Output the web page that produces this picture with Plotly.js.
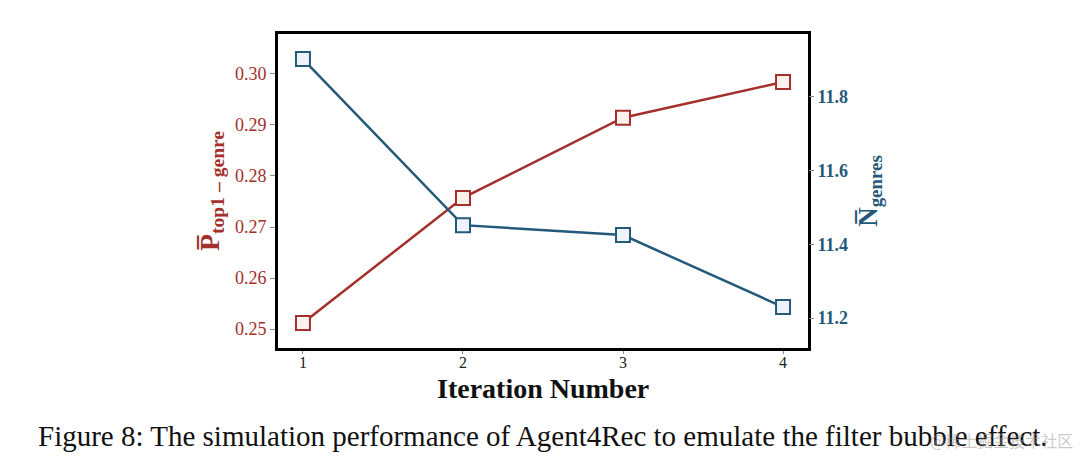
<!DOCTYPE html>
<html>
<head>
<meta charset="utf-8">
<script src="https://cdn.plot.ly/plotly-3.0.1.min.js"></script>
<style>html,body{margin:0;padding:0;background:#fff;}#chart{width:1080px;height:468px;}</style>
</head>
<body>
<div id="chart"></div>
<script>
const iterations = [1, 2, 3, 4];
const pTop1Genre = [0.2512, 0.2757, 0.2914, 0.2984];
const nGenres = [11.902, 11.452, 11.425, 11.230];
const xTickLabels = ['1', '2', '3', '4'];
const leftTicks = [0.25, 0.26, 0.27, 0.28, 0.29, 0.30];
const rightTicks = [11.2, 11.4, 11.6, 11.8];

const RED = '#a3302b';
const BLUE = '#25597a';
const SERIF = '"Liberation Serif", "Times New Roman", serif';

const traces = [
  {
    x: iterations, y: pTop1Genre, type: 'scatter', mode: 'lines+markers',
    line: {color: RED, width: 2.5},
    marker: {symbol: 'square', size: 14, color: '#fdf1ee', line: {color: RED, width: 2}},
    yaxis: 'y', cliponaxis: false
  },
  {
    x: iterations, y: nGenres, type: 'scatter', mode: 'lines+markers',
    line: {color: BLUE, width: 2.5},
    marker: {symbol: 'square', size: 14, color: '#eef3fb', line: {color: BLUE, width: 2}},
    yaxis: 'y2', cliponaxis: false
  }
];

const layout = {
  width: 1080, height: 468,
  margin: {l: 278, r: 272, t: 34, b: 120},
  paper_bgcolor: '#fff', plot_bgcolor: '#fff',
  showlegend: false,
  font: {family: SERIF, color: '#000'},
  xaxis: {
    range: [0.844, 4.156], tickvals: iterations, ticktext: xTickLabels,
    showgrid: false, zeroline: false,
    showline: true, mirror: true, linecolor: '#000', linewidth: 3,
    ticks: 'outside', ticklen: 3, tickwidth: 1, tickcolor: '#888',
    ticklabelstandoff: -5,
    tickfont: {family: SERIF, size: 16, color: '#222'}
  },
  yaxis: {
    range: [0.2463, 0.3078], tickvals: leftTicks, ticktext: leftTicks.map(v => v.toFixed(2)),
    showgrid: false, zeroline: false,
    showline: true, mirror: true, linecolor: '#000', linewidth: 3,
    ticks: 'outside', ticklen: 5, tickwidth: 1, tickcolor: '#888',
    tickfont: {family: SERIF, size: 18, color: RED},
    title: {text: '<b>P\u0305<sub>top1 \u2013 genre</sub></b>', font: {family: SERIF, size: 28, color: RED}, standoff: 8}
  },
  yaxis2: {
    overlaying: 'y', side: 'right',
    range: [11.119, 11.97], tickvals: rightTicks, ticktext: rightTicks.map(v => v.toFixed(1)),
    showgrid: false, zeroline: false, showline: false,
    ticks: 'outside', ticklen: 5, tickwidth: 1, tickcolor: '#888',
    tickfont: {family: SERIF, size: 18, color: BLUE, weight: 'bold'},
    title: {text: '<b>N\u0305<sub>genres</sub></b>', font: {family: SERIF, size: 27, color: BLUE}, standoff: 10}
  },
  annotations: [
    {
      xref: 'paper', yref: 'paper', x: 0.5, y: -0.13, xanchor: 'center', yanchor: 'middle',
      text: '<b>Iteration Number</b>',
      showarrow: false, font: {family: SERIF, size: 28, color: '#111'}
    },
    {
      xref: 'paper', yref: 'paper', x: 0.5, y: -0.28, xanchor: 'center', yanchor: 'middle',
      text: 'Figure 8: The simulation performance of Agent4Rec to emulate the filter bubble effect.',
      showarrow: false, font: {family: SERIF, size: 29, color: '#111'}
    },
    {
      xref: 'paper', yref: 'paper', x: 1.504, y: -0.293, xanchor: 'right', yanchor: 'middle',
      text: '@稀土掘金技术社区', showarrow: false,
      font: {family: '"Noto Sans CJK SC", sans-serif', size: 16, color: 'rgba(150,150,150,0.5)'}
    }
  ]
};

Plotly.newPlot('chart', traces, layout, {displayModeBar: false, staticPlot: true});
</script>
</body>
</html>
